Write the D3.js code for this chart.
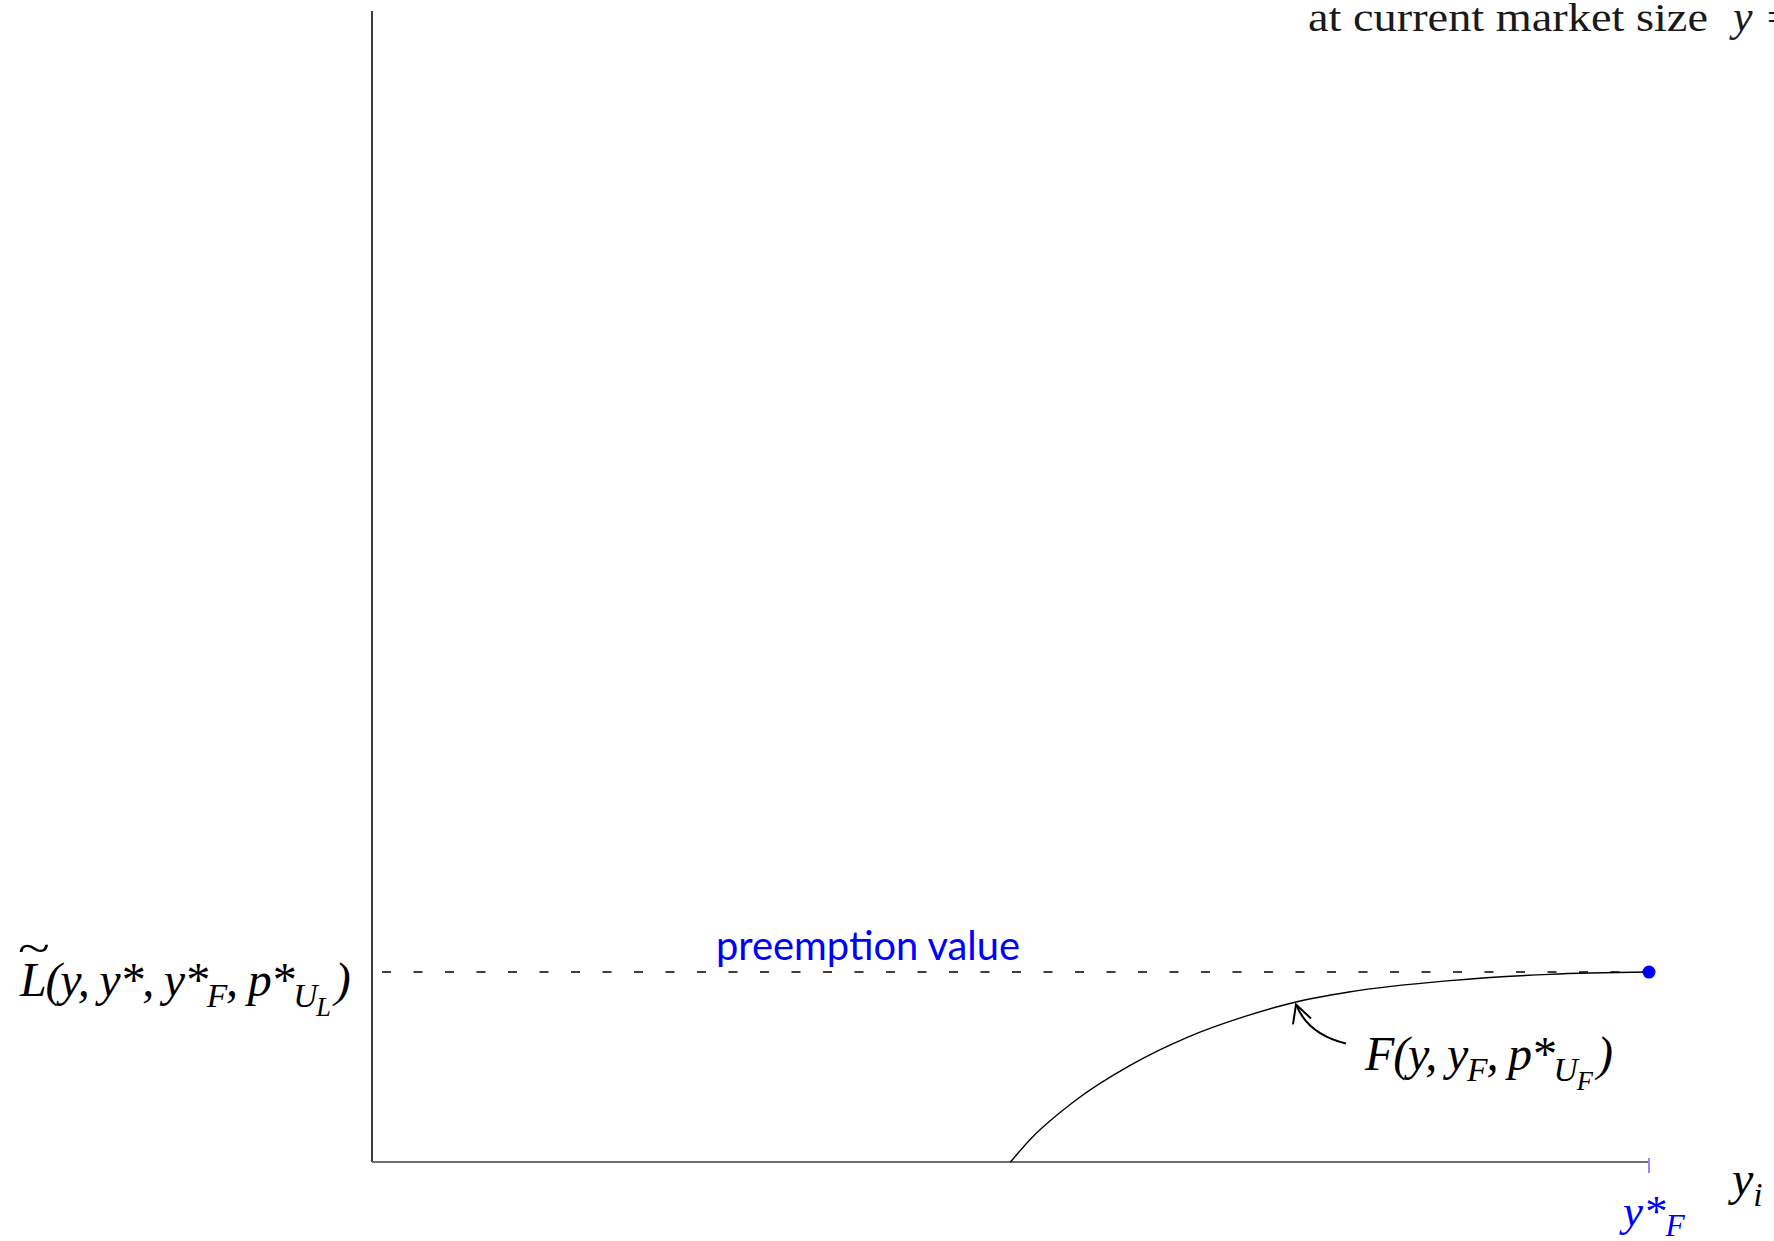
<!DOCTYPE html>
<html>
<head>
<meta charset="utf-8">
<script src="https://cdn.jsdelivr.net/npm/d3@7"></script>
<style>
  html, body { margin: 0; padding: 0; background: #fff; overflow: hidden; }
  svg { display: block; }
</style>
</head>
<body>
<script>
// Follower value F(y, y_F, p*) against the investment trigger y_i,
// capped by the leader's preemption value at y*_F.
const curveX = [0.5, 0.515, 0.55, 0.594, 0.638, 0.683, 0.722, 0.765, 0.844, 0.922, 1.0];
const curveY = [0, 0.116, 0.32, 0.51, 0.655, 0.765, 0.84, 0.895, 0.955, 0.988, 1.0];
const preemptionValue = 1.0;
const yStarF = 1.0;
const xMax = 1.0;
const yMax = 6.06;

const W = 1774, H = 1241;
const svg = d3.select("body").append("svg").attr("width", W).attr("height", H);

const x = d3.scaleLinear().domain([0, xMax]).range([372, 1649]);
const y = d3.scaleLinear().domain([0, yMax]).range([1162, 11]);

// axes (plain lines, no ticks)
svg.append("line")
  .attr("x1", x(0)).attr("x2", x(0)).attr("y1", y(yMax)).attr("y2", y(0))
  .attr("stroke", "#3a3a3a").attr("stroke-width", 2);
svg.append("line")
  .attr("x1", x(0)).attr("x2", x(xMax)).attr("y1", y(0)).attr("y2", y(0))
  .attr("stroke", "#6e6e6e").attr("stroke-width", 2);

// y*_F tick
svg.append("line")
  .attr("x1", x(yStarF)).attr("x2", x(yStarF)).attr("y1", y(0) - 4).attr("y2", y(0) + 11)
  .attr("stroke", "#8c8cff").attr("stroke-width", 2);

// dashed preemption level
svg.append("line")
  .attr("x1", x(0) + 10).attr("x2", x(yStarF)).attr("y1", y(preemptionValue)).attr("y2", y(preemptionValue))
  .attr("stroke", "#000").attr("stroke-width", 1.4)
  .attr("stroke-dasharray", "9,22.5");

// follower value curve
const line = d3.line().x(d => x(d[0])).y(d => y(d[1])).curve(d3.curveMonotoneX);
svg.append("path")
  .datum(curveX.map((v, i) => [v, curveY[i]]))
  .attr("d", line)
  .attr("fill", "none").attr("stroke", "#000").attr("stroke-width", 1.4);

// endpoint dot
svg.append("circle")
  .attr("cx", x(yStarF)).attr("cy", y(preemptionValue)).attr("r", 6.5)
  .attr("fill", "#0000ff");

// annotation arrow to the curve
const tipX = x(0.722) + 2, tipY = y(0.84) + 2;
svg.append("path")
  .attr("d", `M${tipX + 50},${tipY + 39} Q${tipX + 12},${tipY + 30} ${tipX},${tipY}`)
  .attr("fill", "none").attr("stroke", "#000").attr("stroke-width", 2);
svg.append("path")
  .attr("d", `M${tipX - 3},${tipY + 20} L${tipX},${tipY} L${tipX + 15},${tipY + 14}`)
  .attr("fill", "none").attr("stroke", "#000").attr("stroke-width", 2);

const serif = "'Liberation Serif', 'Times New Roman', serif";

// math label helper: parts = [text, level] where level 0 main, 1 sub, 2 subsub
function mathLabel(parent, px, py, size, color, parts) {
  const t = parent.append("text")
    .attr("x", px).attr("y", py)
    .attr("font-family", serif).attr("font-style", "italic")
    .attr("font-size", size).attr("fill", color);
  const sizes = [size, size * 0.7, size * 0.55];
  const offs = [0, size * 0.22, size * 0.42];
  let cur = 0;
  parts.forEach(([s, lvl]) => {
    t.append("tspan")
      .attr("font-size", sizes[lvl])
      .attr("dy", offs[lvl] - cur)
      .text(s);
    cur = offs[lvl];
  });
  return t;
}

// leader value label with a wide tilde over the L
mathLabel(svg, 20, 996, 48, "#000", [
  ["L", 0], ["(y, y*, y*", 0], ["F", 1], [", p*", 0], ["U", 1], ["L ", 2], [")", 0]
]).attr("letter-spacing", -1.2);
svg.append("text")
  .attr("x", 34).attr("y", 963)
  .attr("font-family", serif).attr("font-size", 56).attr("fill", "#000")
  .attr("text-anchor", "middle")
  .attr("transform", "translate(34,963) scale(1.05,0.8) translate(-34,-963)")
  .text("~");

// follower label
mathLabel(svg, 1365, 1070, 48, "#000", [
  ["F", 0], ["(y, y", 0], ["F", 1], [", p*", 0], ["U", 1], ["F ", 2], [")", 0]
]).attr("letter-spacing", -1.2);

// preemption value caption
svg.append("text")
  .attr("x", 716).attr("y", 960)
  .attr("font-family", "Lato, 'Liberation Sans', sans-serif")
  .attr("font-size", 40).attr("fill", "#0000ff")
  .attr("textLength", 304).attr("lengthAdjust", "spacingAndGlyphs")
  .text("preemption value");

// x tick label y*_F
mathLabel(svg, 1623, 1226, 45, "#0000ff", [["y*", 0], ["F", 1]]);

// x-axis name y_i
mathLabel(svg, 1732, 1195, 48, "#000", [["y", 0], ["i", 1]]);

// header text
svg.append("text")
  .attr("x", 1308).attr("y", 31)
  .attr("font-family", serif).attr("font-size", 39).attr("fill", "#1a1a1a")
  .attr("textLength", 400).attr("lengthAdjust", "spacingAndGlyphs")
  .text("at current market size");
svg.append("text")
  .attr("x", 1733).attr("y", 31)
  .attr("font-family", serif).attr("font-style", "italic")
  .attr("font-size", 44).attr("fill", "#1a1a1a")
  .text("y");
svg.append("text")
  .attr("x", 1767).attr("y", 31)
  .attr("font-family", serif).attr("font-size", 39).attr("fill", "#1a1a1a")
  .text("=");
</script>
</body>
</html>
